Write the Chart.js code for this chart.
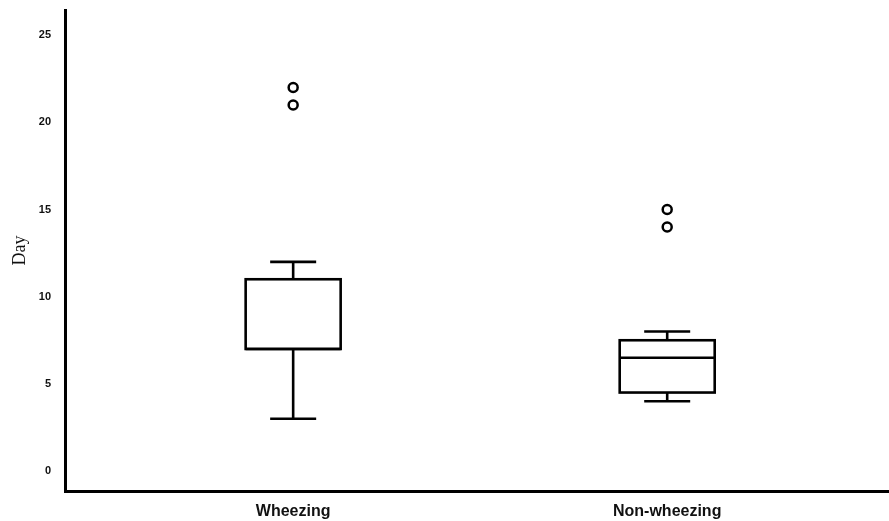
<!DOCTYPE html>
<html>
<head>
<meta charset="utf-8">
<script src="https://cdn.jsdelivr.net/npm/chart.js@4/dist/chart.umd.min.js"></script>
<style>
  html, body { margin: 0; padding: 0; background: #fff; }
  #wrap { width: 889px; height: 521px; }
</style>
</head>
<body>
<div id="wrap"><canvas id="boxCanvas"></canvas></div>
<script>
// groups and box statistics
const categories = ["Wheezing", "Non-wheezing"];
const whiskerLow = [3, 4];
const q1 = [7, 4.5];
const median = [7, 6.5];
const q3 = [11, 7.5];
const whiskerHigh = [12, 8];
const outliers = [[21, 22], [14, 15]];
const yTicks = [0, 5, 10, 15, 20, 25];

// box and cap widths in x-axis units
const boxW = 0.254;
const capW = 0.123;

const outlierPoints = [];
outliers.forEach((vals, i) => {
    vals.forEach(v => outlierPoints.push({ x: i + 1, y: v }));
});

// draws boxes, medians and whiskers from the arrays above using the chart scales
const boxPlugin = {
    id: "boxes",
    afterDatasetsDraw(chart) {
        const ctx = chart.ctx;
        const xs = chart.scales.x;
        const ys = chart.scales.y;
        ctx.save();
        ctx.strokeStyle = "#000";
        ctx.lineWidth = 2.6;
        ctx.lineCap = "butt";
        categories.forEach((c, i) => {
            const cx = xs.getPixelForValue(i + 1);
            const left = xs.getPixelForValue(i + 1 - boxW / 2);
            const right = xs.getPixelForValue(i + 1 + boxW / 2);
            const capL = xs.getPixelForValue(i + 1 - capW / 2);
            const capR = xs.getPixelForValue(i + 1 + capW / 2);
            const yLo = ys.getPixelForValue(whiskerLow[i]);
            const yQ1 = ys.getPixelForValue(q1[i]);
            const yMed = ys.getPixelForValue(median[i]);
            const yQ3 = ys.getPixelForValue(q3[i]);
            const yHi = ys.getPixelForValue(whiskerHigh[i]);
            ctx.beginPath();
            // whiskers
            ctx.moveTo(cx, yQ3); ctx.lineTo(cx, yHi);
            ctx.moveTo(capL, yHi); ctx.lineTo(capR, yHi);
            ctx.moveTo(cx, yQ1); ctx.lineTo(cx, yLo);
            ctx.moveTo(capL, yLo); ctx.lineTo(capR, yLo);
            // median
            ctx.moveTo(left, yMed); ctx.lineTo(right, yMed);
            ctx.stroke();
            ctx.strokeRect(left, yQ3, right - left, yQ1 - yQ3);
        });
        ctx.restore();
    }
};

const boxCanvas = document.getElementById("boxCanvas");
const boxChart = new Chart(boxCanvas, {
    type: "scatter",
    data: {
        datasets: [{
            data: outlierPoints,
            pointRadius: 4.5,
            pointBorderWidth: 2.5,
            pointBorderColor: "#000",
            pointBackgroundColor: "#fff"
        }]
    },
    plugins: [boxPlugin],
    options: {
        responsive: true,
        maintainAspectRatio: false,
        animation: false,
        layout: { autoPadding: false, padding: { top: 10, right: 0, left: 0, bottom: 0 } },
        plugins: {
            legend: { display: false },
            tooltip: { enabled: false }
        },
        scales: {
            x: {
                type: "linear",
                min: 0.39,
                max: 2.593,
                grid: { display: false, drawTicks: false },
                border: { display: true, color: "#000", width: 3 },
                afterBuildTicks: (scale) => {
                    scale.ticks = categories.map((c, i) => ({ value: i + 1 }));
                },
                afterFit: (scale) => {
                    scale.height = 30;
                    scale.paddingLeft = 0;
                    scale.paddingRight = 0;
                },
                ticks: {
                    color: "#111",
                    padding: 11,
                    maxRotation: 0,
                    font: { family: "Liberation Sans, Arial", size: 16, weight: "bold" },
                    callback: (v) => categories[v - 1]
                }
            },
            y: {
                min: -1.15,
                max: 26.45,
                grid: { display: false, drawTicks: false },
                border: { display: true, color: "#000", width: 3 },
                afterBuildTicks: (scale) => {
                    scale.ticks = yTicks.map(v => ({ value: v }));
                },
                afterFit: (scale) => {
                    scale.width = 65;
                    scale.paddingTop = 0;
                    scale.paddingBottom = 0;
                },
                title: {
                    display: true,
                    text: "Day",
                    color: "#111",
                    padding: { top: 9, bottom: 0 },
                    font: { family: "Liberation Serif, DejaVu Serif", size: 18 }
                },
                ticks: {
                    color: "#111",
                    padding: 14,
                    font: { family: "Liberation Sans, Arial", size: 11, weight: "bold" }
                }
            }
        }
    }
});
</script>
</body>
</html>
